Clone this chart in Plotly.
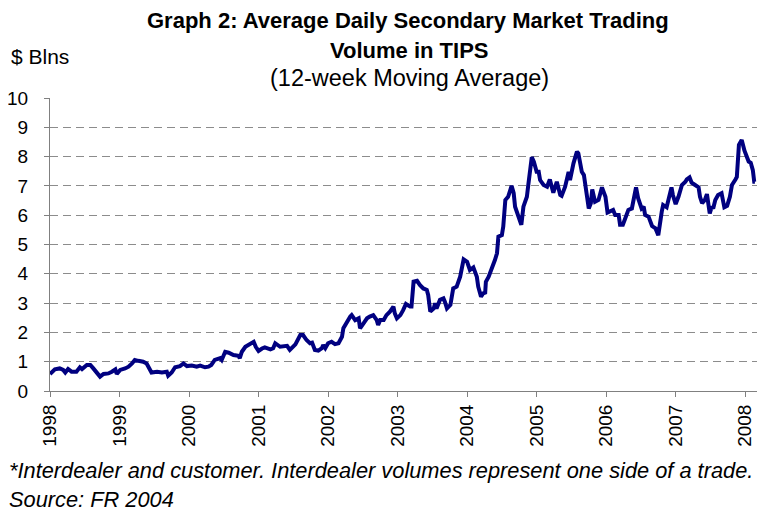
import plotly.graph_objects as go

years = [
    1998.00, 1998.07, 1998.14, 1998.19, 1998.22, 1998.26, 1998.31, 1998.38, 1998.43, 1998.46,
    1998.53, 1998.58, 1998.62, 1998.67, 1998.72, 1998.77, 1998.84, 1998.89, 1998.94, 1998.96,
    1999.01, 1999.08, 1999.13, 1999.18, 1999.22, 1999.27, 1999.34, 1999.39, 1999.44, 1999.46,
    1999.54, 1999.61, 1999.68, 1999.70, 1999.75, 1999.80, 1999.87, 1999.92, 1999.97, 2000.04,
    2000.11, 2000.16, 2000.23, 2000.28, 2000.32, 2000.37, 2000.45, 2000.47, 2000.52, 2000.57,
    2000.64, 2000.71, 2000.73, 2000.76, 2000.81, 2000.88, 2000.93, 2000.96, 2001.00, 2001.05,
    2001.09, 2001.17, 2001.21, 2001.24, 2001.28, 2001.31, 2001.41, 2001.45, 2001.53, 2001.60,
    2001.64, 2001.69, 2001.74, 2001.77, 2001.81, 2001.86, 2001.91, 2001.93, 2001.96, 2002.00,
    2002.05, 2002.10, 2002.15, 2002.20, 2002.22, 2002.27, 2002.32, 2002.34, 2002.39, 2002.44,
    2002.46, 2002.51, 2002.56, 2002.60, 2002.65, 2002.70, 2002.72, 2002.75, 2002.80, 2002.84,
    2002.89, 2002.94, 2002.96, 2002.99, 2003.04, 2003.08, 2003.12, 2003.18, 2003.20, 2003.23,
    2003.28, 2003.32, 2003.37, 2003.42, 2003.44, 2003.47, 2003.52, 2003.54, 2003.56, 2003.61,
    2003.66, 2003.68, 2003.71, 2003.76, 2003.80, 2003.85, 2003.90, 2003.95, 2004.00, 2004.04,
    2004.09, 2004.14, 2004.16, 2004.20, 2004.23, 2004.26, 2004.27, 2004.31, 2004.36, 2004.40,
    2004.43, 2004.45, 2004.50, 2004.52, 2004.55, 2004.59, 2004.64, 2004.67, 2004.69, 2004.74,
    2004.78, 2004.81, 2004.86, 2004.88, 2004.93, 2004.96, 2005.00, 2005.03, 2005.05, 2005.10,
    2005.15, 2005.19, 2005.24, 2005.29, 2005.34, 2005.36, 2005.41, 2005.46, 2005.48, 2005.53,
    2005.58, 2005.60, 2005.65, 2005.68, 2005.72, 2005.75, 2005.78, 2005.80, 2005.84, 2005.89,
    2005.94, 2005.99, 2006.02, 2006.06, 2006.10, 2006.13, 2006.18, 2006.20, 2006.24, 2006.27,
    2006.32, 2006.37, 2006.39, 2006.43, 2006.46, 2006.51, 2006.54, 2006.56, 2006.61, 2006.66,
    2006.71, 2006.75, 2006.80, 2006.82, 2006.87, 2006.91, 2006.94, 2006.96, 2007.00, 2007.04,
    2007.09, 2007.14, 2007.16, 2007.20, 2007.23, 2007.28, 2007.33, 2007.35, 2007.38, 2007.42,
    2007.45, 2007.49, 2007.52, 2007.54, 2007.57, 2007.61, 2007.66, 2007.70, 2007.74, 2007.78,
    2007.81, 2007.86, 2007.88, 2007.91, 2007.95, 2007.99, 2008.02, 2008.05, 2008.08, 2008.11,
    2008.13, 2008.14,
]

volume = [
    0.58, 0.74, 0.77, 0.72, 0.63, 0.75, 0.66, 0.66, 0.81, 0.75,
    0.89, 0.89, 0.78, 0.63, 0.49, 0.58, 0.60, 0.66, 0.74, 0.58,
    0.72, 0.77, 0.83, 0.94, 1.06, 1.03, 1.00, 0.94, 0.72, 0.63,
    0.66, 0.63, 0.66, 0.52, 0.63, 0.81, 0.85, 0.94, 0.85, 0.87,
    0.83, 0.87, 0.81, 0.83, 0.89, 1.06, 1.12, 1.06, 1.34, 1.31,
    1.23, 1.20, 1.12, 1.34, 1.51, 1.60, 1.68, 1.51, 1.37, 1.45,
    1.49, 1.42, 1.46, 1.63, 1.57, 1.51, 1.54, 1.40, 1.59, 1.91,
    1.91, 1.74, 1.63, 1.65, 1.40, 1.38, 1.46, 1.57, 1.46, 1.63,
    1.68, 1.60, 1.63, 1.85, 2.14, 2.37, 2.54, 2.59, 2.42, 2.48,
    2.14, 2.31, 2.48, 2.54, 2.59, 2.42, 2.25, 2.42, 2.42, 2.59,
    2.71, 2.88, 2.65, 2.48, 2.59, 2.76, 2.97, 2.88, 2.88, 3.73,
    3.76, 3.62, 3.50, 3.45, 3.28, 2.71, 2.82, 2.99, 2.82, 3.11,
    3.16, 3.05, 2.82, 2.94, 3.50, 3.56, 3.90, 4.49, 4.41, 4.13,
    4.22, 3.90, 3.56, 3.22, 3.33, 3.36, 3.73, 3.90, 4.19, 4.47,
    4.70, 5.27, 5.32, 5.61, 6.52, 6.63, 7.00, 6.75, 6.29, 5.95,
    5.67, 6.29, 6.63, 7.03, 7.98, 7.83, 7.48, 7.48, 7.20, 7.03,
    6.97, 7.22, 6.77, 7.14, 6.69, 6.66, 6.97, 7.48, 7.20, 7.77,
    8.17, 8.11, 7.48, 7.37, 6.63, 6.23, 6.41, 6.88, 6.46, 6.52,
    6.95, 6.63, 6.09, 6.12, 6.18, 6.01, 6.01, 5.67, 5.67, 5.86,
    6.18, 6.23, 6.52, 6.95, 6.58, 6.23, 6.29, 6.01, 5.95, 5.63,
    5.55, 5.32, 6.12, 6.35, 6.27, 6.69, 6.95, 6.69, 6.38, 6.63,
    7.03, 7.14, 7.22, 7.29, 7.11, 7.03, 6.95, 6.63, 6.41, 6.52,
    6.72, 6.06, 6.29, 6.23, 6.52, 6.69, 6.75, 6.27, 6.32, 6.63,
    7.03, 7.22, 7.31, 8.40, 8.57, 8.20, 7.98, 7.83, 7.79, 7.54,
    7.14, 7.14,
]

year_ticks = [1998, 1999, 2000, 2001, 2002, 2003, 2004, 2005, 2006, 2007, 2008]
y_ticks = [0, 1, 2, 3, 4, 5, 6, 7, 8, 9, 10]

FONT = "Liberation Sans, Arial, sans-serif"
# page body has an 8px default margin, so the figure is drawn 8px in
OFF = 8
W, H = 766 - OFF, 511 - OFF
L, T = 50 - OFF, 98 - OFF
RIGHT, BOTTOM = 757 - OFF, 391 - OFF
R, B = W - RIGHT, H - BOTTOM
PW, PH = W - L - R, H - T - B


def px(x):
    return (x - OFF - L) / PW


def py(y):
    return (BOTTOM - (y - OFF)) / PH


fig = go.Figure()
fig.add_trace(go.Scatter(
    x=years, y=volume, mode="lines",
    line=dict(color="#000080", width=4),
    showlegend=False, hoverinfo="skip", cliponaxis=False,
))

fig.update_layout(
    width=W, height=H,
    margin=dict(l=L, r=R, t=T, b=B, autoexpand=False),
    paper_bgcolor="white", plot_bgcolor="white",
    font=dict(family=FONT, size=19, color="black"),
    xaxis=dict(
        range=[1998, 2008.17], tickvals=year_ticks,
        ticktext=[str(v) for v in year_ticks],
        tickangle=-90, ticks="outside", ticklen=5, tickcolor="#808080",
        showline=True, linecolor="#808080", linewidth=1,
        showgrid=False, zeroline=False, automargin=False,
        tickfont=dict(size=19),
    ),
    yaxis=dict(
        range=[0, 10], tickvals=y_ticks,
        ticks="outside", ticklen=5, tickcolor="#808080",
        showline=True, linecolor="#808080", linewidth=1,
        showgrid=True, gridcolor="#8c8c8c", griddash="8px,5px", gridwidth=1,
        zeroline=False, tickfont=dict(size=19), automargin=False,
        ticklabelstandoff=12,
    ),
)

annos = [
    dict(text="<b>Graph 2: Average Daily Secondary Market Trading</b>", x=px(408), y=py(20), xanchor="center", size=22),
    dict(text="<b>Volume in TIPS</b>", x=px(409), y=py(50), xanchor="center", size=22),
    dict(text="(12-week Moving Average)", x=px(409), y=py(78), xanchor="center", size=23.5),
    dict(text="$ Blns", x=px(9), y=py(56), xanchor="left", size=21),
    dict(text="<i>*Interdealer and customer. Interdealer volumes represent one side of a trade.</i>", x=px(7), y=py(470), xanchor="left", size=21.8),
    dict(text="<i>Source: FR 2004</i>", x=px(7), y=py(499), xanchor="left", size=21.8),
]
for a in annos:
    size = a.pop("size")
    fig.add_annotation(xref="paper", yref="paper", yanchor="middle", showarrow=False,
                       font=dict(family=FONT, size=size, color="black"), **a)

fig.write_html("out.html")
